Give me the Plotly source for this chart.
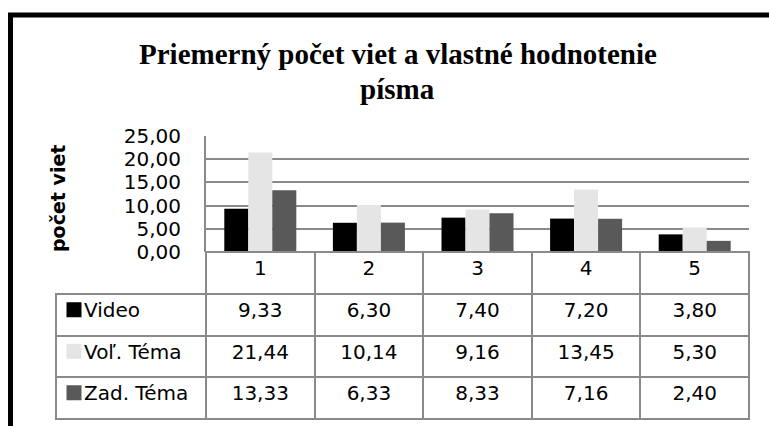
import plotly.graph_objects as go

# Categories and the three series of average sentence counts
categories = ["1", "2", "3", "4", "5"]
video = [9.33, 6.30, 7.40, 7.20, 3.80]
vol_tema = [21.44, 10.14, 9.16, 13.45, 5.30]
zad_tema = [13.33, 6.33, 8.33, 7.16, 2.40]

series_names = ["Video", "Voľ. Téma", "Zad. Téma"]
series_values = [video, vol_tema, zad_tema]
series_colors = ["#000000", "#e5e5e5", "#595959"]

y_ticks = [0, 5, 10, 15, 20, 25]

title_lines = ["Priemerný počet viet a vlastné hodnotenie", "písma"]

W, H = 769, 426
FONT = "DejaVu Sans"
GRID = "#8a8a8a"
CLEAR = "rgba(0,0,0,0)"


def fmt(v):
    return f"{v:.2f}".replace(".", ",")


# plot area and table geometry in pixels
plot_left, plot_right = 206, 749
plot_top, plot_bottom = 136, 252
table_left = 56
header_h, row_h = 42, 41.5

fig = go.Figure()

for name, vals, col in zip(series_names, series_values, series_colors):
    fig.add_trace(go.Bar(
        x=categories, y=vals, name=name,
        marker=dict(color=col, line=dict(width=0)),
        showlegend=False, hoverinfo="skip",
    ))

# data table under the chart: header row with categories, then one row per series
legend_cells = ["\u2003" + n for n in series_names]
cell_columns = [legend_cells] + [
    [fmt(s[i]) for s in series_values] for i in range(len(categories))
]
first_w = plot_left - table_left
col_w = (plot_right - plot_left) / len(categories)
n_cat = len(categories)

fig.add_trace(go.Table(
    domain=dict(x=[table_left / W, plot_right / W], y=[0, 1 - plot_bottom / H]),
    columnwidth=[first_w] + [col_w] * n_cat,
    header=dict(
        values=[""] + categories,
        height=header_h,
        fill=dict(color=[CLEAR] + ["white"] * n_cat),
        line=dict(color=[CLEAR] + [GRID] * n_cat, width=2),
        align="center",
        font=dict(family=FONT, size=20, color="black"),
    ),
    cells=dict(
        values=cell_columns,
        height=row_h,
        fill=dict(color=[CLEAR] + ["white"] * n_cat),
        line=dict(color=GRID, width=2),
        align=["left"] + ["center"] * n_cat,
        font=dict(family=FONT, size=20, color="black"),
    ),
))

# legend keys in the first table column, one square per series row,
# lined up with the row labels (table text sits slightly above row centre)
rows_top = plot_bottom + header_h
rows_bottom = rows_top + row_h * len(series_names)
text_lift = 0.12
fig.add_trace(go.Scatter(
    x=[0.12] * len(series_names), y=list(range(len(series_names))),
    mode="markers", xaxis="x2", yaxis="y2",
    marker=dict(symbol="square", size=15, color=series_colors, line=dict(width=0)),
    showlegend=False, hoverinfo="skip",
))

# two-line chart title, each line placed on its own
title_centers = [54, 89]
title_annotations = [
    dict(
        text=f"<b>{line}</b>",
        x=0.517, y=1 - yc / H, xref="paper", yref="paper",
        xanchor="center", yanchor="middle", showarrow=False,
        font=dict(family="Liberation Serif", size=29, color="black"),
    )
    for line, yc in zip(title_lines, title_centers)
]

fig.update_layout(
    width=W, height=H,
    margin=dict(l=0, r=0, t=0, b=0, autoexpand=False),
    paper_bgcolor="white", plot_bgcolor="white",
    barmode="group", bargap=0.337, bargroupgap=0,
    separators=", ",
    xaxis=dict(
        domain=[plot_left / W, plot_right / W], automargin=False,
        showticklabels=False, showgrid=False, showline=False, zeroline=False,
        ticks="",
    ),
    yaxis=dict(
        domain=[1 - plot_bottom / H, 1 - plot_top / H], automargin=False,
        range=[0, 25], tickvals=y_ticks, tickformat=".2f",
        showgrid=True, gridcolor=GRID, gridwidth=2,
        showline=True, linecolor=GRID, linewidth=2,
        zeroline=True, zerolinecolor=GRID, zerolinewidth=2,
        ticks="", ticklabelstandoff=19,
        tickfont=dict(family=FONT, size=20, color="black"),
    ),
    xaxis2=dict(
        domain=[table_left / W, plot_left / W], range=[0, 1],
        visible=False, fixedrange=True, automargin=False,
    ),
    yaxis2=dict(
        domain=[1 - rows_bottom / H, 1 - rows_top / H],
        range=[len(series_names) - 0.5 + text_lift, -0.5 + text_lift],
        visible=False, fixedrange=True, automargin=False,
    ),
    annotations=title_annotations + [
        dict(
            text="<b>počet viet</b>", textangle=-90,
            x=58 / W, y=1 - 199 / H, xref="paper", yref="paper",
            xanchor="center", yanchor="middle", showarrow=False,
            font=dict(family=FONT, size=19, color="black"),
        ),
    ],
    shapes=[dict(
        type="path", xref="paper", yref="paper",
        path=f"M {10.5 / W},0 L {10.5 / W},{1 - 15 / H} L 1,{1 - 15 / H}",
        line=dict(color="black", width=5),
        layer="above",
    )],
)

fig.write_html("out.html")
